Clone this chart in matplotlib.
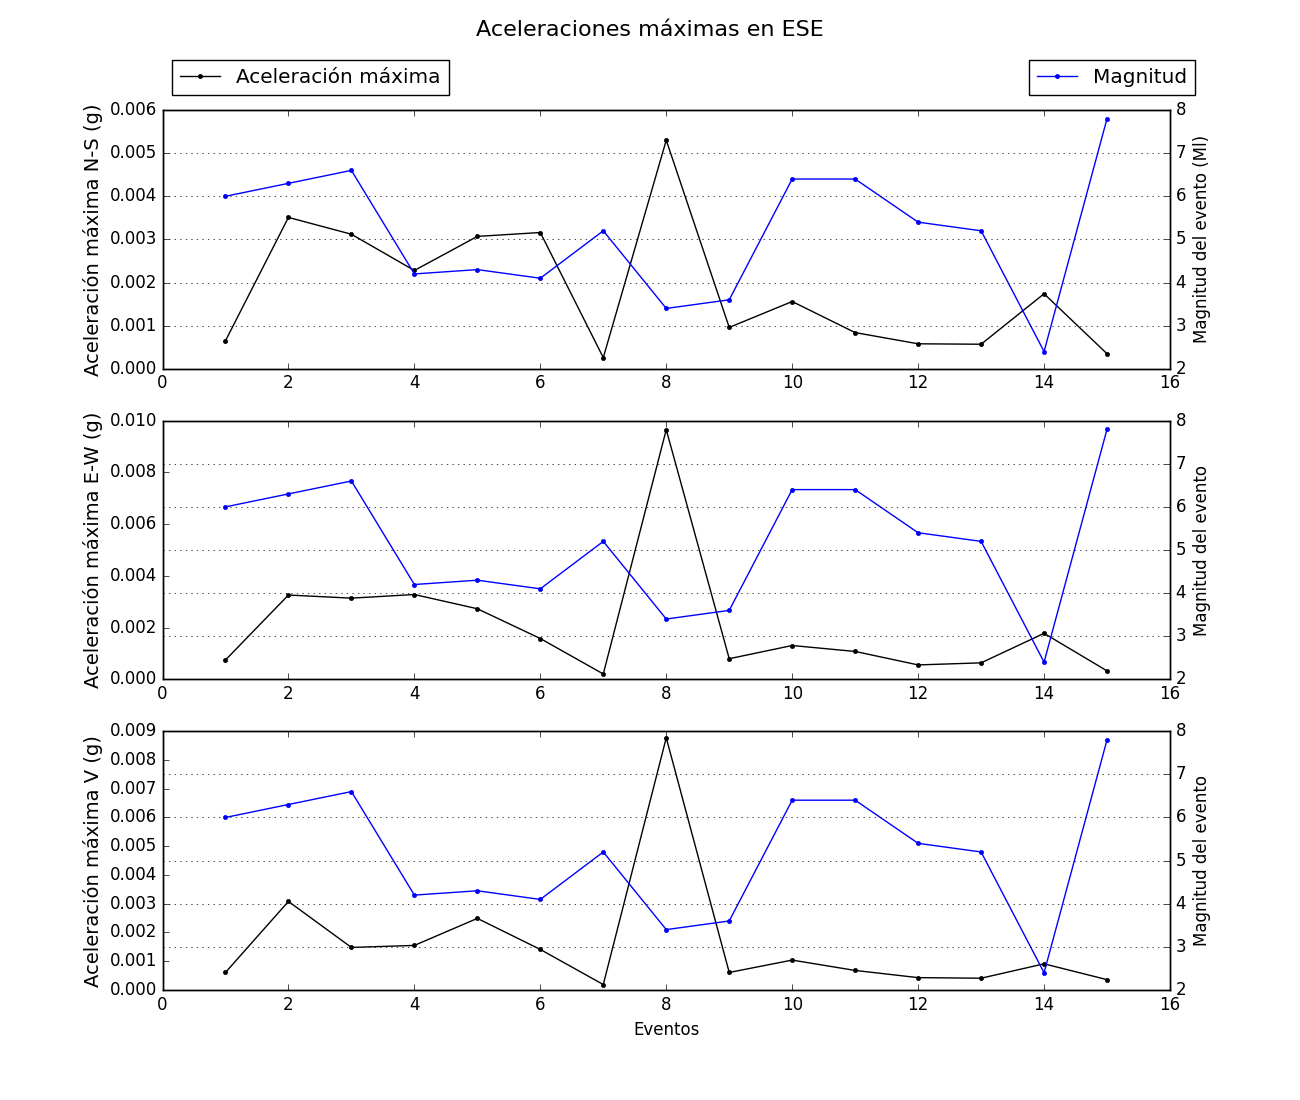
import matplotlib
matplotlib.use("Agg")
import matplotlib.pyplot as plt

plt.style.use("classic")

# Eventos 1..15
eventos = list(range(1, 16))

# Magnitud del evento (Ml), same for the three components
magnitud = [6.0, 6.3, 6.6, 4.2, 4.3, 4.1, 5.2, 3.4, 3.6, 6.4, 6.4, 5.4, 5.2, 2.4, 7.8]

# Aceleracion maxima (g) per component
acel_ns = [0.00065, 0.00351, 0.00312, 0.00228, 0.00307, 0.00316, 0.00026, 0.00530,
           0.00096, 0.00156, 0.00084, 0.00058, 0.00057, 0.00174, 0.00035]
acel_ew = [0.00075, 0.00326, 0.00314, 0.00328, 0.00273, 0.00158, 0.00021, 0.00965,
           0.00080, 0.00131, 0.00108, 0.00056, 0.00064, 0.00178, 0.00033]
acel_v = [0.00061, 0.00308, 0.00148, 0.00155, 0.00249, 0.00141, 0.00019, 0.00877,
          0.00061, 0.00104, 0.00068, 0.00043, 0.00041, 0.00091, 0.00036]

paneles = [
    (acel_ns, 0.006, u"Aceleración máxima N-S (g)", "Magnitud del evento (Ml)"),
    (acel_ew, 0.010, u"Aceleración máxima E-W (g)", "Magnitud del evento"),
    (acel_v, 0.009, u"Aceleración máxima V (g)", "Magnitud del evento"),
]

fig, axes = plt.subplots(3, 1, figsize=(13, 11), dpi=100)
fig.subplots_adjust(left=0.125, right=0.9, bottom=0.1, top=0.9, hspace=0.2)
fig.suptitle("Aceleraciones máximas en ESE", fontsize=16, y=0.982)

for i, (ax, (acel, ymax, ylab, ylab2)) in enumerate(zip(axes, paneles)):
    l1, = ax.plot(eventos, acel, "k.-", label=u"Aceleración máxima")
    ax.set_xlim(0, 16)
    ax.set_ylim(0, ymax)
    ax.set_ylabel(ylab, fontsize=14)

    ax2 = ax.twinx()
    l2, = ax2.plot(eventos, magnitud, "b.-", label="Magnitud")
    ax2.set_ylim(2, 8)
    ax2.set_ylabel(ylab2, fontsize=12)
    ax2.yaxis.grid(True)

    if i == 0:
        ax.legend(handles=[l1], loc="lower left", bbox_to_anchor=(0.0099, 1.058),
                  borderaxespad=0, numpoints=1, fontsize=14.4)
        ax2.legend(handles=[l2], loc="lower right", bbox_to_anchor=(1.0248, 1.058),
                   borderaxespad=0, numpoints=1, fontsize=14.4)

axes[-1].set_xlabel("Eventos", fontsize=12)

fig.savefig("out.png", dpi=100, facecolor="white")
